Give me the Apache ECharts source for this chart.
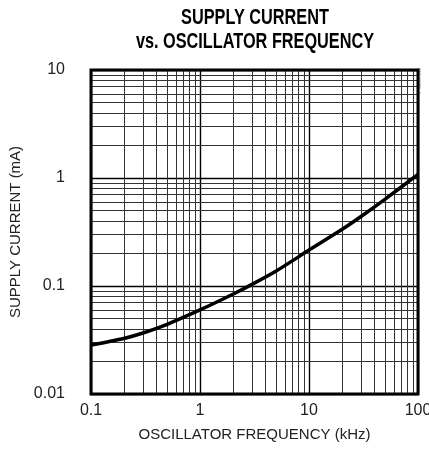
<!DOCTYPE html>
<html><head><meta charset="utf-8">
<script src="https://cdn.jsdelivr.net/npm/echarts@6/dist/echarts.min.js"></script>
<style>html,body{margin:0;padding:0;background:#fff}#c{width:429px;height:454px}</style>
</head><body><div id="c"></div>
<script>
var freqKHz = [0.1, 0.2, 0.3, 0.5, 1, 2, 3, 5, 10, 20, 30, 50, 100];
var currentMA = [0.0284, 0.0327, 0.0367, 0.0442, 0.06, 0.0838, 0.1035, 0.1377, 0.215, 0.333, 0.44, 0.638, 1.08];
var xTickLabels = ['0.1', '1', '10', '100'];
var yTickLabels = ['0.01', '0.1', '1', '10'];
var xMinorGrid = [0.2,0.3,0.4,0.5,0.6,0.7,0.8,0.9, 2,3,4,5,6,7,8,9, 20,30,40,50,60,70,80,90];
var yMinorGrid = [0.02,0.03,0.04,0.05,0.06,0.07,0.08,0.09, 0.2,0.3,0.4,0.5,0.6,0.7,0.8,0.9, 2,3,4,5,6,7,8,9];
var titleLines = ['SUPPLY CURRENT', 'vs. OSCILLATOR FREQUENCY'];

var FONT = '"Liberation Sans", Arial, sans-serif';
function fmt(list){ return function(v){
  for (var i=0;i<list.length;i++){ if (Math.abs(Math.log10(v) - Math.log10(parseFloat(list[i]))) < 1e-6) return list[i]; }
  return ''; }; }

var minorLines = [];
xMinorGrid.forEach(function(v){ minorLines.push({xAxis: v}); });
yMinorGrid.forEach(function(v){ minorLines.push({yAxis: v}); });

var chart = echarts.init(document.getElementById('c'), null, {renderer:'canvas'});
chart.setOption({
  animation: false,
  backgroundColor: '#fff',
  grid: {left: 91, right: 11, top: 70, bottom: 60, show: true, borderColor: '#000', borderWidth: 3,
         backgroundColor: 'transparent', z: 10, containLabel: false, outerBoundsMode: 'none'},
  xAxis: {
    type: 'log', logBase: 10, min: 0.1, max: 100, interval: 1,
    axisLine: {show: false}, axisTick: {show: false},
    axisLabel: {formatter: fmt(xTickLabels), fontFamily: FONT, fontSize: 16, color: '#222', margin: 9},
    splitLine: {show: true, lineStyle: {color: '#000', width: 1.4}},
    name: 'OSCILLATOR FREQUENCY (kHz)', nameLocation: 'middle', nameGap: 33,
    nameTextStyle: {fontFamily: FONT, fontSize: 15, color: '#222'}
  },
  yAxis: {
    type: 'log', logBase: 10, min: 0.01, max: 10, interval: 1,
    axisLine: {show: false}, axisTick: {show: false},
    axisLabel: {formatter: fmt(yTickLabels), fontFamily: FONT, fontSize: 16, color: '#222', margin: 26},
    splitLine: {show: true, lineStyle: {color: '#000', width: 1.4}},
    name: 'SUPPLY CURRENT (mA)', nameLocation: 'middle', nameGap: 67, nameRotate: 90,
    nameTextStyle: {fontFamily: FONT, fontSize: 15, color: '#222'}
  },
  graphic: [{
    type: 'text', x: 255, y: 18, scaleX: 0.74,
    style: {text: titleLines[0], textAlign: 'center', textVerticalAlign: 'middle', fontFamily: FONT, fontWeight: 'bold', fontSize: 22, fill: '#000'}
  }, {
    type: 'text', x: 255, y: 42, scaleX: 0.74,
    style: {text: titleLines[1], textAlign: 'center', textVerticalAlign: 'middle', fontFamily: FONT, fontWeight: 'bold', fontSize: 22, fill: '#000'}
  }, {
    type: 'text', x: 422, y: 68, rotation: -Math.PI/2,
    style: {text: 'MAX680-4', fontFamily: FONT, fontSize: 5.5, fill: '#888'}
  }],
  series: [{
    type: 'line', data: [], z: 1, silent: true,
    markLine: {silent: true, symbol: ['none','none'], label: {show: false}, animation: false,
      lineStyle: {color: '#333', width: 1, type: 'solid'}, emphasis: {disabled: true}, data: minorLines}
  }, {
    type: 'line', z: 5, smooth: 0.25, showSymbol: false, silent: true,
    data: freqKHz.map(function(x, i){ return [x, currentMA[i]]; }),
    lineStyle: {color: '#000', width: 3.5}
  }]
});
</script></body></html>
